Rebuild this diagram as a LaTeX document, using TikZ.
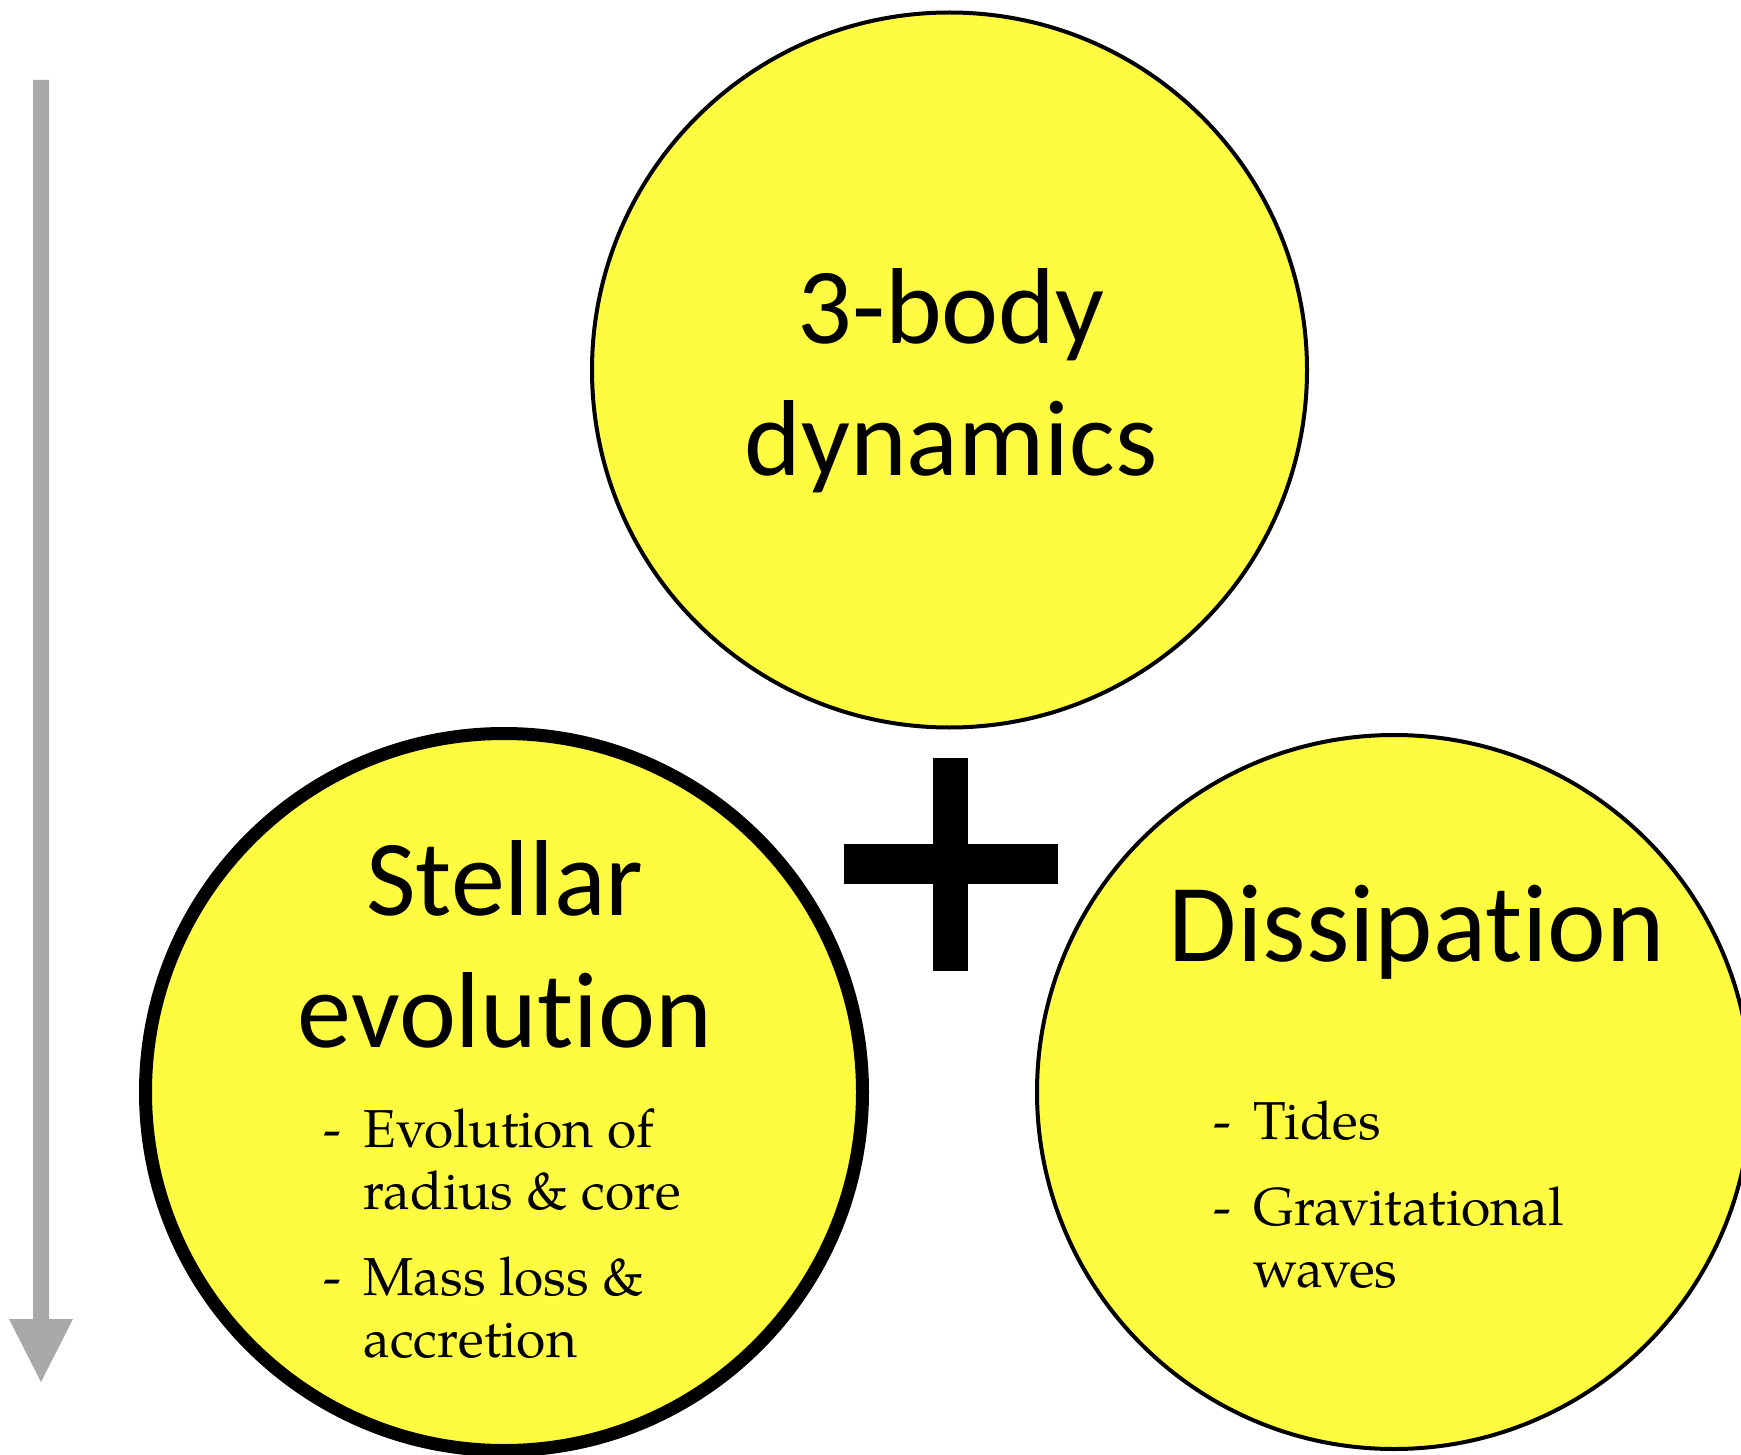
\documentclass[tikz,border=0pt]{standalone}
\usepackage{fontspec}
\setmainfont{TeX Gyre Pagella}
\newfontfamily\titlefont[Ligatures=NoCommon]{Carlito}
\definecolor{discyellow}{RGB}{255,251,65}
\definecolor{arrowgray}{RGB}{169,169,169}
\tikzset{
  disc/.style={circle, draw=black, fill=discyellow, inner sep=0pt, minimum size=#1},
  titletext/.style={font=\titlefont\fontsize{54}{66}\selectfont, align=center, anchor=base, inner sep=0pt},
  bullettext/.style={font=\fontsize{26.7}{31}\selectfont, align=left, anchor=base west, inner sep=0pt},
  bar/.style={fill=black, draw=none}
}
\newcommand{\dashitem}{\makebox[20pt][l]{-}}
\newcommand{\dashgap}{\hspace*{20pt}}
\begin{document}
\begin{tikzpicture}[x=0.5pt,y=-0.5pt]
\useasboundingbox (0,0) rectangle (1741,1455);
% time arrow
\fill[arrowgray] (33,80) -- (49,80) -- (49,1319) -- (73,1319) -- (41,1382) -- (9,1319) -- (33,1319) -- cycle;
% circles
\node[disc=357.5pt, line width=2pt] (dyn) at (949.5,370) {};
\node[disc=358.5pt, line width=6.5pt] (stellar) at (504,1092) {};
\node[disc=357pt, line width=2pt] (diss) at (1394,1092) {};
% plus sign
\fill[bar] (933,758) rectangle (968,971);
\fill[bar] (844,844) rectangle (1058,884);
% titles (anchor = baseline of the last line)
\node[titletext] (dyntitle) at (951,475) {3-body\\dynamics};
\node[titletext] (steltitle) at (505,1047) {Stellar\\evolution};
\node[titletext, font=\titlefont\fontsize{55.5}{66}\selectfont] (disstitle) at (1417,961) {Dissipation};
% bullets (anchor = baseline of the last line)
\node[bullettext] (stelitems) at (323,1357) {\dashitem Evolution of\\\dashgap radius \& core\\[12pt]\dashitem Mass loss \&\\\dashgap accretion};
\node[bullettext] (dissitems) at (1213,1287) {\dashitem Tides\\[12pt]\dashitem Gravitational\\\dashgap waves};
\end{tikzpicture}
\end{document}
